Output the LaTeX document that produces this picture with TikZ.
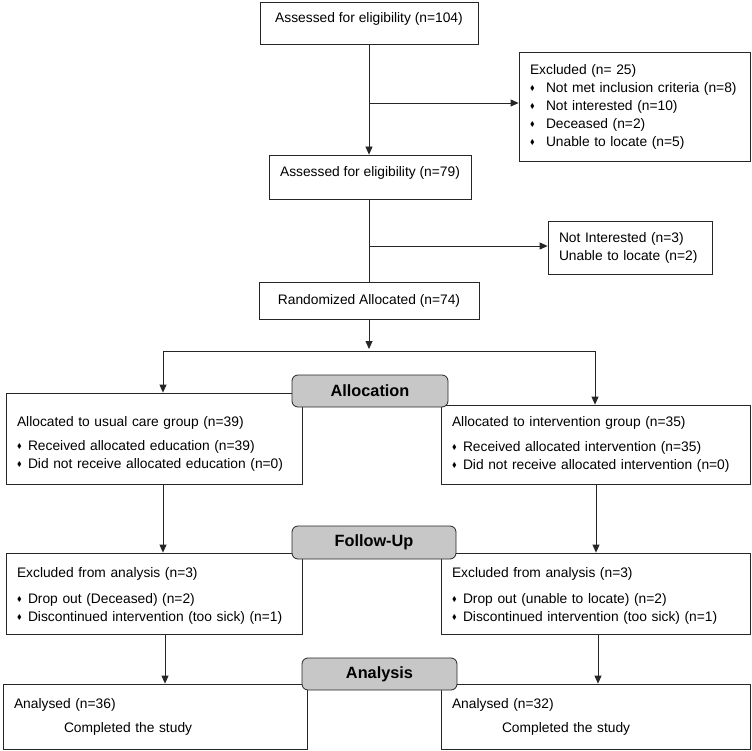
\documentclass[tikz,border=0pt]{standalone}
\usepackage{fontspec}
\setmainfont{Liberation Sans}
\usepackage{amssymb}
\usepackage{graphicx}
\usetikzlibrary{arrows.meta}
\newcommand{\bl}[1][11pt]{\makebox[#1][l]{\raisebox{1.6pt}{\scalebox{0.5}{$\blacklozenge$}}}}
\begin{document}
\begin{tikzpicture}[x=1pt,y=1pt,
  box/.style={draw=black!85, line width=0.8pt, fill=white, inner sep=0pt, font=\fontsize{13.8}{18}\selectfont},
  lbox/.style={box, align=left, inner xsep=11pt},
  phase/.style={draw=black!85, line width=0.8pt, fill=black!22, rounded corners=6pt, inner sep=0pt, font=\fontsize{16.3}{18}\selectfont\bfseries},
  arr/.style={line width=0.8pt, draw=black!85, -{Triangle[length=8pt,width=7pt]}},
  ln/.style={line width=0.8pt, draw=black!85}]
\useasboundingbox (0,0) rectangle (752,-751);

% top boxes
\node[box, minimum width=218pt, minimum height=42pt, text depth=11pt] (a1) at (369,-23) {Assessed for eligibility (n=104)};
\node[lbox, minimum width=231pt, minimum height=109pt, text width=209pt] (ex1) at (634.5,-106.5)
  {Excluded (n= 25)\\
   \bl[16pt]Not met inclusion criteria (n=8)\\
   \bl[16pt]Not interested (n=10)\\
   \bl[16pt]Deceased (n=2)\\
   \bl[16pt]Unable to locate (n=5)};
\node[box, minimum width=202pt, minimum height=44pt, text depth=11pt] (a2) at (370,-177) {Assessed for eligibility (n=79)};
\node[lbox, minimum width=164pt, minimum height=53pt, text width=142pt] (ex2) at (630,-247.5)
  {Not Interested (n=3)\\Unable to locate (n=2)};
\node[box, minimum width=220pt, minimum height=37pt] (r) at (369,-300.5) {Randomized Allocated (n=74)};

% allocation boxes
\node[lbox, minimum width=296pt, minimum height=91pt, text width=274pt] (al) at (154,-438.5)
  {\mbox{}\\[2pt]Allocated to usual care group (n=39)\\[6pt]
   \bl Received allocated education (n=39)\\
   \bl Did not receive allocated education (n=0)};
\node[lbox, minimum width=309pt, minimum height=79pt, text width=287pt] (ar) at (595.5,-444.5)
  {Allocated to intervention group (n=35)\\[7pt]
   \bl Received allocated intervention (n=35)\\
   \bl Did not receive allocated intervention (n=0)};

% follow-up boxes
\node[lbox, minimum width=296pt, minimum height=81pt, text width=274pt] (fl) at (154,-593.5)
  {\mbox{}\\[-4pt]Excluded from analysis (n=3)\\[8pt]
   \bl Drop out (Deceased) (n=2)\\
   \bl Discontinued intervention (too sick) (n=1)};
\node[lbox, minimum width=309pt, minimum height=81pt, text width=287pt] (fr) at (595.5,-593.5)
  {\mbox{}\\[-4pt]Excluded from analysis (n=3)\\[8pt]
   \bl Drop out (unable to locate) (n=2)\\
   \bl Discontinued intervention (too sick) (n=1)};

% analysis boxes
\node[lbox, minimum width=304pt, minimum height=65pt, text width=282pt] (nl) at (155,-716.5)
  {Analysed (n=36)\\[6pt]\hspace*{50pt}Completed the study};
\node[lbox, minimum width=309pt, minimum height=65pt, text width=287pt] (nr) at (595.5,-716.5)
  {Analysed (n=32)\\[6pt]\hspace*{50pt}Completed the study};

% phase labels
\node[phase, minimum width=156pt, minimum height=32pt] (pa) at (370,-391) {Allocation};
\node[phase, minimum width=164pt, minimum height=33pt] (pf) at (374,-542.5) {Follow-Up};
\node[phase, minimum width=155pt, minimum height=32pt] (pn) at (379.5,-674) {Analysis};

% connectors
\coordinate (b1) at (369,-103);
\coordinate (b2) at (369,-246);
\draw[arr] (a1.south) -- (a1.south |- a2.north);
\draw[arr] (b1) -- (b1 -| ex1.west);
\draw[ln] (a2.south -| a1.south) -- (r.north);
\draw[arr] (b2) -- (b2 -| ex2.west);
\coordinate (sp) at (369,-351);
\coordinate (spl) at (163,-351);
\coordinate (spr) at (595,-351);
\draw[arr] (r.south) -- ([yshift=2pt]sp);
\draw[ln] (spl) -- (spr);
\draw[arr] (spl) -- (spl |- al.north);
\draw[arr] (spr) -- (spr |- ar.north);
\draw[arr] (al.south -| spl) -- (spl |- fl.north);
\draw[arr] ([xshift=1pt]ar.south -| spr) -- ([xshift=1pt]spr |- fr.north);
\draw[arr] ([xshift=2pt]fl.south -| spl) -- ([xshift=2pt]spl |- nl.north);
\draw[arr] ([xshift=3pt]fr.south -| spr) -- ([xshift=3pt]spr |- nr.north);
\end{tikzpicture}
\end{document}
